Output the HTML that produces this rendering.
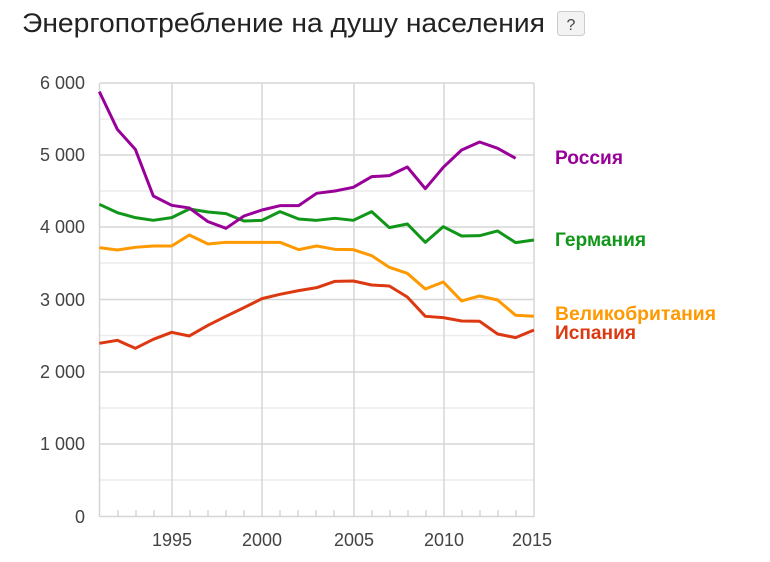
<!DOCTYPE html>
<html><head><meta charset="utf-8"><style>
body{margin:0;background:#fff;width:770px;height:562px;overflow:hidden}
svg{display:block}
</style></head><body>
<svg width="770" height="562" xmlns="http://www.w3.org/2000/svg" font-family="Liberation Sans, Arial, sans-serif">
<text x="22" y="32" font-size="27" fill="#222" textLength="523" lengthAdjust="spacingAndGlyphs">Энергопотребление на душу населения</text>
<rect x="557.5" y="11.5" width="27" height="24" rx="3" fill="#f3f3f3" stroke="#ccc"/>
<text x="571" y="30" font-size="16" fill="#444" text-anchor="middle">?</text>
<g stroke="#ececec" stroke-width="1.5">
<line x1="100" x2="534" y1="119" y2="119"/><line x1="100" x2="534" y1="191" y2="191"/>
<line x1="100" x2="534" y1="263" y2="263"/><line x1="100" x2="534" y1="335.5" y2="335.5"/>
<line x1="100" x2="534" y1="408" y2="408"/><line x1="100" x2="534" y1="480" y2="480"/>
</g>
<g stroke="#d6d6d6" stroke-width="1.5">
<line x1="100" x2="534" y1="83" y2="83"/><line x1="100" x2="534" y1="155" y2="155"/>
<line x1="100" x2="534" y1="227" y2="227"/><line x1="100" x2="534" y1="299.5" y2="299.5"/>
<line x1="100" x2="534" y1="372" y2="372"/><line x1="100" x2="534" y1="444" y2="444"/>
<line x1="100" x2="534" y1="516.5" y2="516.5"/>
<line x1="99.5" x2="99.5" y1="83" y2="517"/><line x1="172" x2="172" y1="83" y2="517"/>
<line x1="262" x2="262" y1="83" y2="517"/><line x1="354" x2="354" y1="83" y2="517"/>
<line x1="444" x2="444" y1="83" y2="517"/><line x1="534" x2="534" y1="83" y2="517"/>
<path d="M118 510v6M136 510v6M154 510v6M190 510v6M208 510v6M226 510v6M244 510v6M280 510v6M298 510v6M316 510v6M334 510v6M372 510v6M390 510v6M408 510v6M426 510v6M462 510v6M480 510v6M498 510v6M516 510v6"/>
</g>
<g font-size="18" fill="#444" text-anchor="end">
<text x="85" y="89">6 000</text><text x="85" y="161">5 000</text><text x="85" y="233">4 000</text>
<text x="85" y="306">3 000</text><text x="85" y="378">2 000</text><text x="85" y="450">1 000</text><text x="85" y="523">0</text>
</g>
<g font-size="18" fill="#444" text-anchor="middle">
<text x="172" y="546">1995</text><text x="262" y="546">2000</text><text x="354" y="546">2005</text><text x="444" y="546">2010</text><text x="532" y="546">2015</text>
</g>
<g transform="translate(90,80) scale(0.3333)" fill="none" stroke-width="9" stroke-linejoin="round">
<polyline stroke="#dc3912" points="28,790 82,781 136,805 190,778 245,757 298,768 354,736 408,709 462,683 516,656 570,643 626,632 680,623 735,604 790,603 845,615 898,618 952,651 1006,709 1060,713 1115,723 1169,724 1223,762 1277,773 1332,750"/>
<polyline stroke="#ff9900" points="28,503 82,510 136,502 190,498 245,498 298,465 354,492 408,487 462,487 516,487 570,487 626,509 680,498 735,508 790,509 845,527 898,562 952,580 1006,627 1060,606 1115,663 1169,648 1223,660 1277,706 1332,709"/>
<polyline stroke="#109618" points="28,373 82,398 136,413 190,421 245,413 298,387 354,396 408,401 462,423 516,421 570,395 626,417 680,421 735,415 790,421 845,395 898,443 952,432 1006,487 1060,440 1115,468 1169,467 1223,453 1277,488 1332,480"/>
<polyline stroke="#990099" points="28,35 82,148 136,208 190,348 245,376 298,384 354,425 408,445 462,408 516,390 570,377 626,377 680,340 735,333 790,322 845,290 898,287 952,261 1006,326 1060,262 1115,210 1169,186 1223,205 1277,235"/>
</g>
<g font-size="19" font-weight="bold">
<text x="555" y="164" fill="#990099" textLength="68" lengthAdjust="spacingAndGlyphs">Россия</text>
<text x="555" y="246" fill="#109618" textLength="91" lengthAdjust="spacingAndGlyphs">Германия</text>
<text x="555" y="320" fill="#ff9900" textLength="161" lengthAdjust="spacingAndGlyphs">Великобритания</text>
<text x="555" y="339" fill="#dc3912" textLength="81" lengthAdjust="spacingAndGlyphs">Испания</text>
</g>
</svg>
</body></html>
